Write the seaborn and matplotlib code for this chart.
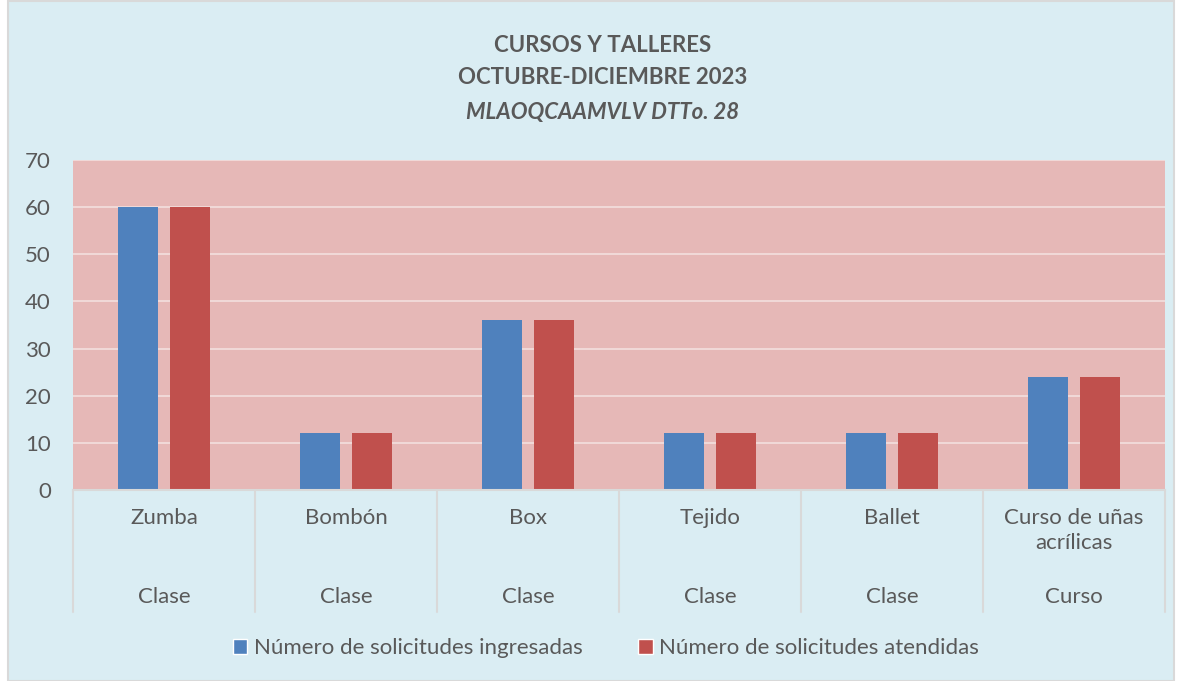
import numpy as np
import pandas as pd
import matplotlib
matplotlib.use("Agg")
import matplotlib.pyplot as plt
import matplotlib.transforms as mtransforms
from matplotlib.patches import Patch, Rectangle
import seaborn as sns

# ---- data ----
categories = ["Zumba", "Bombón", "Box", "Tejido", "Ballet", "Curso de uñas\nacrílicas"]
groups = ["Clase", "Clase", "Clase", "Clase", "Clase", "Curso"]
ingresadas = [60, 12, 36, 12, 12, 24]
atendidas = [60, 12, 36, 12, 12, 24]
series_names = ["Número de solicitudes ingresadas", "Número de solicitudes atendidas"]
yticks = [0, 10, 20, 30, 40, 50, 60, 70]
title_lines = ["CURSOS Y TALLERES", "OCTUBRE-DICIEMBRE 2023", "MLAOQCAAMVLV DTTo. 28"]

colors = ["#4F81BD", "#C0504D"]
txt = "#595959"

sns.set_theme(style="white")
plt.rcParams['font.family'] = ['Lato', 'DejaVu Sans']

W, H = 1178, 681
fig = plt.figure(figsize=(W / 100, H / 100), dpi=100)
fig.patch.set_facecolor("white")
fig.patches.append(Rectangle((8 / W, 0), (1174 - 8) / W, (H - 8) / H + 0.01,
                             transform=fig.transFigure, facecolor="#DAEDF3",
                             edgecolor="#D9D9D9", lw=1.5, zorder=-10))

ax = fig.add_axes([73 / W, 1 - 490 / H, 1092 / W, 330 / H])
ax.set_facecolor("#E6B8B7")

df = pd.DataFrame({
    "cat": categories * 2,
    "val": ingresadas + atendidas,
    "serie": [series_names[0]] * len(categories) + [series_names[1]] * len(categories),
})
sns.barplot(data=df, x="cat", y="val", hue="serie", order=categories,
            hue_order=series_names, palette=colors, saturation=1,
            width=0.571, gap=0.23, legend=False, ax=ax, linewidth=0)

ax.set_xlim(-0.5, len(categories) - 0.5)
ax.set_ylim(0, 70)
ax.set_yticks(yticks)
ax.set_yticklabels([str(v) for v in yticks])
ax.yaxis.grid(True, color="#F2DCDB", lw=1.3)
ax.xaxis.grid(False)
ax.set_axisbelow(True)
for s in ["left", "right", "top"]:
    ax.spines[s].set_visible(False)
ax.spines["bottom"].set_color("#D9D9D9")
ax.spines["bottom"].set_linewidth(1.5)
ax.tick_params(axis="y", length=0, pad=16, labelsize=16, labelcolor=txt)
ax.set_xticks(range(len(categories)))
ax.set_xticklabels([])
ax.tick_params(axis="x", length=0)
ax.set_xlabel("")
ax.set_ylabel("")

trans = mtransforms.blended_transform_factory(ax.transData, ax.transAxes)
for i, c in enumerate(categories):
    ax.text(i, -(508 - 490) / 330, c, transform=trans, ha="center", va="top",
            fontsize=16, color=txt, linespacing=1.3)
    ax.text(i, -(597 - 490) / 330, groups[i], transform=trans, ha="center",
            va="center", fontsize=16, color=txt)
for b in np.arange(-0.5, len(categories), 1.0):
    ax.plot([b, b], [0, -(612 - 490) / 330], transform=trans, clip_on=False,
            color="#D9D9D9", lw=1.5)

ys = [45, 78, 112]
for k, (line, y) in enumerate(zip(title_lines, ys)):
    fig.text(603 / W, 1 - y / H, line, ha="center", va="center", fontsize=16,
             fontweight="bold", color=txt, style="italic" if k == 2 else "normal")

handles = [Patch(facecolor=colors[0]), Patch(facecolor=colors[1])]
fig.legend(handles, series_names, loc="center", bbox_to_anchor=(606 / W, 1 - 648 / H),
           ncol=2, frameon=False, fontsize=16, handlelength=0.65, handleheight=0.65,
           handletextpad=0.3, columnspacing=2.5, labelcolor=txt)

fig.savefig("out.png", dpi=100, facecolor=fig.get_facecolor())
